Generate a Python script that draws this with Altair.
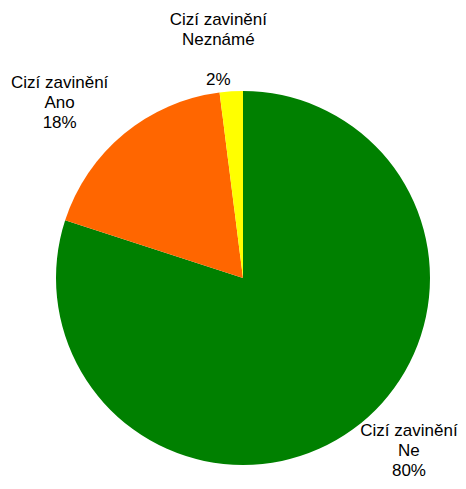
import altair as alt
import pandas as pd

categories = ["Ne", "Ano", "Neznámé"]
values = [80, 18, 2]
pct_labels = ["80%", "18%", "2%"]
name_prefix = "Cizí zavinění"
colors = ["#008000", "#FF6600", "#FFFF00"]

df = pd.DataFrame({
    "cat": categories,
    "value": values,
    "name": [f"{name_prefix}\n{c}" for c in categories],
    "pct": pct_labels,
    "ord": list(range(len(categories))),
})

base = alt.Chart(df).encode(
    theta=alt.Theta("value:Q", stack=True),
    order=alt.Order("ord:Q"),
    x=alt.value(235),
    y=alt.value(270),
)

pie = base.mark_arc(outerRadius=187, stroke=None).encode(
    color=alt.Color("cat:N", scale=alt.Scale(domain=categories, range=colors), legend=None)
)

text_style = dict(
    radius=250,
    font="Liberation Sans",
    fontSize=17,
    lineBreak="\n",
    lineHeight=20,
    align="center",
    baseline="middle",
    color="#000000",
    dx={"expr": "datum.cat == 'Ne' ? 19 : (datum.cat == 'Ano' ? -24 : -9)"},
)

names = base.mark_text(
    dy={"expr": "datum.cat == 'Ne' ? -49 : (datum.cat == 'Ano' ? -2 : -8)"},
    **text_style,
).encode(text="name:N")

pcts = base.mark_text(
    dy={"expr": "datum.cat == 'Ne' ? -9 : (datum.cat == 'Ano' ? 38 : 52)"},
    **text_style,
).encode(text="pct:N")

chart = (pie + names + pcts).properties(
    width=450, height=473, padding=0, autosize=alt.AutoSizeParams(type="none")
).configure_view(stroke=None)

chart.save("out.html", embed_options={"renderer": "svg", "actions": False})
